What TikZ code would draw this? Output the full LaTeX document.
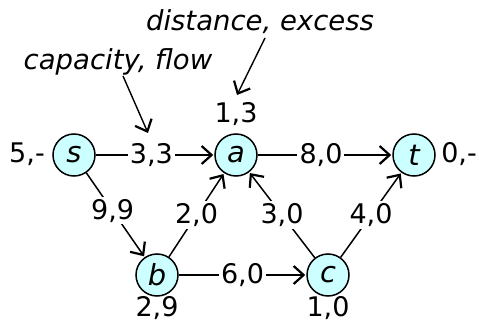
\documentclass[tikz,border=0pt]{standalone}
\usepackage{fontspec}
\setmainfont{DejaVu Sans}
\usetikzlibrary{arrows.meta}
\definecolor{nodefill}{HTML}{CCFFFF}
\begin{document}
\begin{tikzpicture}[x=1pt,y=-1pt,
  vert/.style={circle,draw,line width=1.5pt,fill=nodefill,minimum size=42pt,inner sep=0pt,font=\fontsize{29}{32}\selectfont\itshape},
  lab/.style={font=\fontsize{27}{32}\selectfont,inner sep=0pt},
  elab/.style={font=\fontsize{27}{32}\selectfont,fill=white,inner sep=2pt},
  ann/.style={font=\fontsize{27.5}{32}\selectfont\itshape,inner sep=0pt},
  edge/.style={line width=1.5pt,-{Straight Barb[length=10pt,width=18pt,line width=2.2pt]},shorten >=1pt},
  pointer/.style={line width=1.4pt,-{Straight Barb[length=10pt,width=18pt,line width=2.2pt]}}]
\useasboundingbox (0,0) rectangle (479,323);
\node[vert] (s) at (74,155) {s};
\node[vert] (a) at (236,155) {a};
\node[vert] (t) at (414,155) {t};
\node[vert] (b) at (157,275) {b};
\node[vert] (c) at (328,275) {c};
\node[lab] (ls) at (27,154) {5,-};
\node[lab] (lt) at (459,154) {0,-};
\node[lab] (la) at (236,114) {1,3};
\node[lab] (lb) at (157,308) {2,9};
\node[lab] (lc) at (328,308) {1,0};
\draw[edge] (s) -- node[elab,pos=0.47] {3,3} (a);
\draw[edge] (a) -- node[elab,pos=0.47] {8,0} (t);
\draw[edge] (s) -- node[elab,pos=0.45] {9,9} (b);
\draw[edge] (b) -- node[elab,pos=0.5] {2,0} (a);
\draw[edge] (c) -- node[elab,pos=0.5] {3,0} (a);
\draw[edge] (c) -- node[elab,pos=0.5] {4,0} (t);
\draw[edge] (b) -- node[elab,pos=0.5] {6,0} (c);
\node[ann] (dist) at (260,22) {distance, excess};
\node[ann] (cap) at (118,62) {capacity, flow};
\coordinate (d1) at (265,38);
\coordinate (d2) at (237,95);
\coordinate (c1) at (123,76);
\coordinate (c2) at (148,133);
\draw[pointer] (d1) -- (d2);
\draw[pointer] (c1) -- (c2);
\end{tikzpicture}
\end{document}
